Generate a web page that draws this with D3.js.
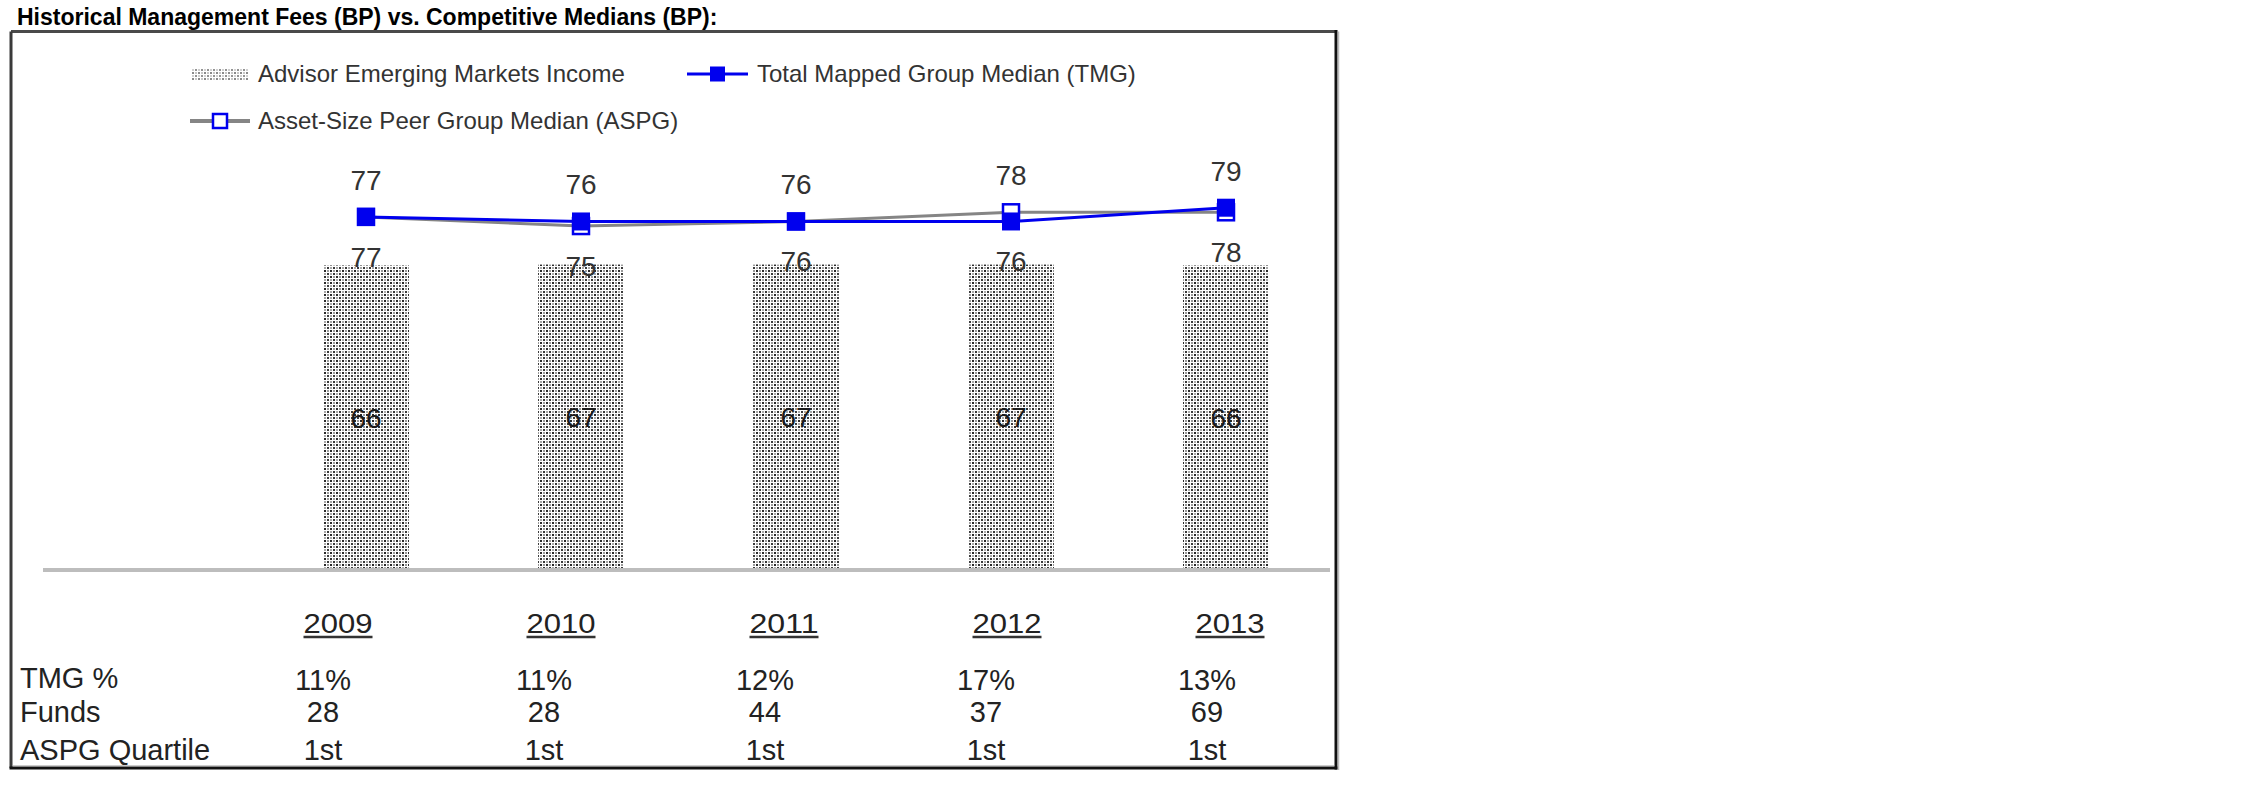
<!DOCTYPE html>
<html><head><meta charset="utf-8">
<script src="https://cdn.jsdelivr.net/npm/d3@7"></script>
<style>html,body{margin:0;padding:0;background:#fff;} svg{display:block;}</style>
</head><body>
<svg id="chart" width="2250" height="796"></svg>
<script>
// ---- data ----
const title = "Historical Management Fees (BP) vs. Competitive Medians (BP):";
const years = ["2009", "2010", "2011", "2012", "2013"];
const advisorFees = [66.4, 66.6, 66.6, 66.6, 66.4];
const tmgMedian = [77, 76, 76, 76, 79];
const aspgMedian = [77, 75, 76, 78, 78];
const seriesNames = ["Advisor Emerging Markets Income", "Total Mapped Group Median (TMG)", "Asset-Size Peer Group Median (ASPG)"];
const rowLabels = ["TMG %", "Funds", "ASPG Quartile"];
const tmgPct = [11, 11, 12, 17, 13];
const funds = [28, 28, 44, 37, 69];
const aspgQuartile = ["1st", "1st", "1st", "1st", "1st"];

// ---- setup ----
const FONT = "'Liberation Sans', Arial, Helvetica, sans-serif";
const svg = d3.select("#chart");
const BLUE = "#0000ee", GRAY = "#858585";

const defs = svg.append("defs");
const pat = defs.append("pattern").attr("id", "dots").attr("patternUnits", "userSpaceOnUse")
  .attr("width", 6).attr("height", 6);
pat.append("rect").attr("width", 6).attr("height", 6).attr("fill", "#fff");
[[0,0,"#2a2a2a"],[3,3,"#3a3a3a"],[3,0,"#9a9a9a"],[0,3,"#a8a8a8"]].forEach(([px,py,c]) =>
  pat.append("rect").attr("x", px).attr("y", py).attr("width", 2).attr("height", 2).attr("fill", c));

// title
svg.append("text").attr("x", 17).attr("y", 25).attr("font-family", FONT).attr("font-weight", "bold")
  .attr("font-size", 23).attr("fill", "#000").text(title);

// frame
const fr = {l: 11, t: 31.5, r: 1336, b: 768};
svg.append("line").attr("x1", fr.l).attr("x2", fr.r).attr("y1", fr.t).attr("y2", fr.t).attr("stroke", "#4a4a4a").attr("stroke-width", 3);
svg.append("line").attr("x1", fr.l).attr("x2", fr.l).attr("y1", fr.t).attr("y2", fr.b).attr("stroke", "#3a3a3a").attr("stroke-width", 3);
svg.append("line").attr("x1", fr.r).attr("x2", fr.r).attr("y1", fr.t - 1.5).attr("y2", fr.b + 1.5).attr("stroke", "#111").attr("stroke-width", 3);
svg.append("line").attr("x1", fr.l - 1.5).attr("x2", fr.r + 1.5).attr("y1", fr.b).attr("y2", fr.b).attr("stroke", "#111").attr("stroke-width", 3);
svg.append("line").attr("x1", fr.r + 2.5).attr("x2", fr.r + 2.5).attr("y1", fr.t).attr("y2", fr.b + 2).attr("stroke", "#bbb").attr("stroke-width", 1.5);
svg.append("line").attr("x1", fr.l + 2).attr("x2", fr.r - 2).attr("y1", fr.b - 2.5).attr("y2", fr.b - 2.5).attr("stroke", "#ccc").attr("stroke-width", 1);

// scales
const x = d3.scaleBand().domain(years).range([258.5, 1333.5]).paddingInner(0.6).paddingOuter(0.3);
const y = d3.scaleLinear().domain([0, 100]).range([570, 111.4]);
const cx = d => x(d) + x.bandwidth() / 2;
const fmt = d3.format(".0f");

// bars
const barData = years.map((yr, i) => ({yr, v: advisorFees[i]}));
svg.append("g").selectAll("rect").data(barData).join("rect")
  .attr("x", d => x(d.yr)).attr("width", x.bandwidth())
  .attr("y", d => y(d.v)).attr("height", d => y(0) - y(d.v))
  .attr("fill", "url(#dots)");
svg.append("g").selectAll("text").data(barData).join("text")
  .attr("x", d => cx(d.yr)).attr("y", d => (y(d.v) + y(0)) / 2 + 10)
  .attr("text-anchor", "middle").attr("font-family", FONT).attr("font-size", 28).attr("fill", "#1a1a1a")
  .text(d => fmt(d.v));

// baseline
svg.append("line").attr("x1", 43).attr("x2", 1330).attr("y1", y(0)).attr("y2", y(0))
  .attr("stroke", "#bdbdbd").attr("stroke-width", 4);

// lines
const tmgData = years.map((yr, i) => ({yr, v: tmgMedian[i]}));
const aspgData = years.map((yr, i) => ({yr, v: aspgMedian[i]}));
const line = d3.line().x(d => cx(d.yr)).y(d => y(d.v));
svg.append("path").datum(aspgData).attr("d", line).attr("fill", "none").attr("stroke", GRAY).attr("stroke-width", 3);
svg.append("path").datum(tmgData).attr("d", line).attr("fill", "none").attr("stroke", BLUE).attr("stroke-width", 3);

// markers
svg.append("g").selectAll("rect").data(aspgData).join("rect")
  .attr("x", d => cx(d.yr) - 8).attr("y", d => y(d.v) - 8).attr("width", 16).attr("height", 16)
  .attr("fill", "#fff").attr("stroke", BLUE).attr("stroke-width", 2.5);
svg.append("g").selectAll("rect").data(tmgData).join("rect")
  .attr("x", d => cx(d.yr) - 9).attr("y", d => y(d.v) - 9).attr("width", 18).attr("height", 18)
  .attr("fill", BLUE);

// value labels: higher value above, lower value below
const pairData = years.map((yr, i) => ({yr, hi: Math.max(tmgMedian[i], aspgMedian[i]), lo: Math.min(tmgMedian[i], aspgMedian[i])}));
svg.append("g").selectAll("text").data(pairData).join("text")
  .attr("x", d => cx(d.yr)).attr("y", d => y(d.hi) - 27)
  .attr("text-anchor", "middle").attr("font-family", FONT).attr("font-size", 28).attr("fill", "#333")
  .text(d => fmt(d.hi));
svg.append("g").selectAll("text").data(pairData).join("text")
  .attr("x", d => cx(d.yr)).attr("y", d => y(d.lo) + 50)
  .attr("text-anchor", "middle").attr("font-family", FONT).attr("font-size", 28).attr("fill", "#333")
  .text(d => fmt(d.lo));

// legend
const lg = svg.append("g").attr("font-family", FONT).attr("font-size", 24).attr("fill", "#333");
lg.append("rect").attr("x", 192).attr("y", 68).attr("width", 56).attr("height", 13).attr("fill", "url(#dots)").attr("opacity", 0.55);
lg.append("text").attr("x", 258).attr("y", 82).text(seriesNames[0]);
lg.append("line").attr("x1", 687).attr("x2", 748).attr("y1", 74).attr("y2", 74).attr("stroke", BLUE).attr("stroke-width", 3);
lg.append("rect").attr("x", 710).attr("y", 66.5).attr("width", 15).attr("height", 15).attr("fill", BLUE);
lg.append("text").attr("x", 757).attr("y", 82).text(seriesNames[1]);
lg.append("line").attr("x1", 190).attr("x2", 250).attr("y1", 121).attr("y2", 121).attr("stroke", GRAY).attr("stroke-width", 4);
lg.append("rect").attr("x", 213).attr("y", 114).attr("width", 14).attr("height", 14).attr("fill", "#fff").attr("stroke", BLUE).attr("stroke-width", 2.5);
lg.append("text").attr("x", 258).attr("y", 129).text(seriesNames[2]);

// table
const yearCol = d3.scalePoint().domain(years).range([338, 1230]);
const valCol = d3.scalePoint().domain(years).range([323, 1207]);
const tg = svg.append("g").attr("font-family", FONT).attr("fill", "#222");
tg.selectAll("text.yr").data(years).join("text").attr("class", "yr")
  .attr("x", d => yearCol(d)).attr("y", 633).attr("text-anchor", "middle").attr("font-size", 28)
  .attr("textLength", 69).attr("lengthAdjust", "spacingAndGlyphs").text(d => d);
tg.selectAll("line.ul").data(years).join("line").attr("class", "ul")
  .attr("x1", d => yearCol(d) - 34.5).attr("x2", d => yearCol(d) + 34.5)
  .attr("y1", 637).attr("y2", 637).attr("stroke", "#333").attr("stroke-width", 2.5);

const rowY = [688, 722, 760];
tg.selectAll("text.rl").data(rowLabels).join("text").attr("class", "rl")
  .attr("x", 20).attr("y", (d, i) => rowY[i]).attr("font-size", 29).text(d => d);
const rows = [tmgPct.map(v => v + "%"), funds.map(v => String(v)), aspgQuartile];
rows.forEach((vals, r) => {
  tg.append("g").selectAll("text").data(vals).join("text")
    .attr("x", (d, i) => valCol(years[i])).attr("y", rowY[r] + (r === 0 ? 2 : 0))
    .attr("text-anchor", "middle").attr("font-size", 29).text(d => d);
});
</script>
</body></html>
